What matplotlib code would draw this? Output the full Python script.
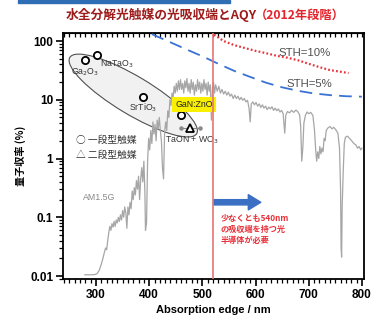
import matplotlib.pyplot as plt
import matplotlib.patches as patches
from matplotlib.transforms import ScaledTranslation
from matplotlib.ticker import MultipleLocator, LogLocator, NullFormatter

plt.rcParams["font.family"] = ["Liberation Sans", "Noto Sans CJK JP"]
JP = ["Noto Sans CJK JP", "Liberation Sans"]

# AM1.5G solar spectrum (scaled to the AQY axis)
am15_nm = [279, 290, 298, 302, 306, 310, 313, 316, 318, 320, 322, 324, 326, 328,
           330, 332, 334, 336, 338, 340, 342, 344, 346, 348, 350, 352, 354, 356,
           358, 360, 362, 364, 366, 368, 370, 372, 374, 376, 378, 380, 382, 384,
           386, 388, 390, 392, 393, 395, 397, 399, 401, 403, 405, 407, 409, 411,
           413, 415, 417, 419, 421, 423, 425, 427, 429, 431, 433, 435, 437, 439,
           441, 443, 445, 447, 449, 451, 453, 455, 457, 459, 461, 463, 465, 467,
           469, 471, 473, 475, 477, 479, 481, 483, 485, 487, 489, 491, 493, 495,
           497, 499, 501, 503, 505, 507, 509, 511, 513, 515, 517, 519, 521, 523,
           525, 528, 531, 534, 537, 540, 543, 546, 549, 552, 555, 558, 561, 564,
           567, 570, 573, 576, 579, 582, 585, 588, 590, 592, 595, 598, 601, 604,
           607, 610, 613, 616, 619, 622, 625, 628, 631, 634, 637, 640, 643, 646,
           649, 652, 655, 657, 660, 664, 668, 672, 676, 680, 683, 685, 687, 689,
           691, 694, 697, 700, 704, 708, 711, 713, 715, 717, 719, 721, 723, 725,
           727, 729, 731, 733, 736, 740, 744, 747, 751, 755, 758, 760, 761, 762,
           763, 765, 767, 769, 773, 777, 781, 785, 789, 792, 795, 798, 800]
am15_val = [0.0105, 0.0105, 0.0106, 0.011, 0.0125, 0.016, 0.02, 0.026, 0.03, 0.028,
            0.04, 0.055, 0.07, 0.06, 0.078, 0.068, 0.085, 0.07, 0.09, 0.08, 0.1,
            0.085, 0.11, 0.09, 0.13, 0.1, 0.15, 0.12, 0.065, 0.15, 0.11, 0.18, 0.14,
            0.28, 0.2, 0.32, 0.24, 0.42, 0.3, 0.5, 0.2, 0.45, 0.7, 0.4, 0.9, 0.25,
            0.06, 0.08, 0.9, 2.2, 1.4, 3.0, 1.8, 4.2, 2.6, 3.8, 2.0, 4.5, 3.2, 5.0,
            3.0, 2.0, 0.7, 0.45, 2.8, 4.2, 3.0, 6.5, 5.0, 10, 8, 13, 11, 17, 13, 19,
            14, 21, 15, 22, 15, 19, 13, 21, 16, 23, 14, 19, 13, 22, 15, 20, 12, 18,
            14, 22, 15, 20, 13, 19, 14, 22, 15, 19, 12, 20, 14, 18, 4.5, 16, 20, 13,
            18, 14, 17, 13, 15, 12.5, 14, 12, 13.5, 11.5, 12.5, 10.5, 12, 10.5, 11.5,
            10, 11, 9.8, 10.5, 9.2, 9.8, 7, 4.2, 8.5, 9.2, 8.2, 9, 7.8, 8.5, 7.4,
            8.2, 7.2, 7.8, 6.8, 7.5, 7, 7.6, 6.6, 7.2, 6.5, 7, 6.2, 6.6, 5.8, 2.7,
            5.5, 6.3, 6.0, 6.6, 6.1, 6.7, 6.2, 5.5, 3.5, 0.9, 1.5, 4.0, 5.5, 6.2,
            5.8, 6.1, 5.4, 3.0, 1.5, 0.9, 1.3, 1.0, 1.6, 1.2, 1.5, 1.3, 2.2, 2.0,
            3.0, 3.3, 3.5, 3.2, 3.4, 3.1, 2.7, 1.5, 0.3, 0.03, 0.021, 0.15, 0.6,
            1.8, 2.3, 2.4, 2.2, 2.0, 1.8, 1.7, 1.5, 1.6, 1.4, 1.5]

# AQY required for a given solar-to-hydrogen efficiency
sth5_nm = [405, 440, 470, 500, 530, 560, 590, 620, 650, 680, 710, 740, 770, 800]
sth5_val = [131, 95, 72, 55, 41, 31, 24.5, 19.5, 16.3, 14.2, 12.8, 12, 11.5, 11.3]
sth10_nm = [522, 540, 560, 580, 600, 620, 640, 660, 680, 700, 720, 740, 760, 775]
sth10_val = [128, 100, 85, 76, 68, 62, 56, 52, 47, 41, 36, 32, 30, 28.5]

# one-step photocatalysts
one_step_nm = [280, 302, 388, 460]
one_step_aqy = [48, 58, 11.2, 5.5]
# two-step (Z-scheme) TaON + WO3
z_nm = 477
z_aqy = 3.3
z_range = [460, 495]

edge_nm = 520

fig = plt.figure(figsize=(3.71, 3.25), dpi=100)
fig.patch.set_facecolor("white")
ax = fig.add_axes([0.17, 0.1415, 0.811, 0.757])

# thin blue strip along the top of the slide
fig.patches.append(patches.Rectangle((18 / 371, 1 - 3 / 325), 212 / 371, 3 / 325,
                                     transform=fig.transFigure, color="#2f6db5"))

# title, two colours
fig.text(257 / 371, 0.954, "水全分解光触媒の光吸収端とAQY", ha="right", va="center",
         fontsize=9.2, fontweight="bold", color="#9e1b1b", family=JP)
fig.text(255 / 371, 0.954, "（2012年段階）", ha="left", va="center",
         fontsize=8.8, fontweight="bold", color="#e4222a", family=JP)

ax.set_yscale("log")
ax.set_xlim(238, 804)
ax.set_ylim(0.0089, 137)

# ellipse around the one-step oxides
ell = patches.Ellipse((0, 0), 1.48, 0.38, angle=-31,
                      transform=fig.dpi_scale_trans + ScaledTranslation(370, 11.8, ax.transData),
                      facecolor="#f1f1f1", edgecolor="#505050", lw=0.8, zorder=1)
ax.add_patch(ell)

ax.plot(am15_nm, am15_val, color="#a6a6a6", lw=0.9, zorder=2)
ax.text(276, 0.22, "AM1.5G", fontsize=6.3, color="#888888", va="center")

ax.plot(sth5_nm, sth5_val, color="#3a72d4", lw=1.3, dashes=(7, 4), zorder=3)
ax.plot(sth10_nm, sth10_val, color="#e8323c", lw=1.6, ls=(0, (0.8, 1.0)), zorder=3)
ax.text(693, 62, "STH=10%", fontsize=8.2, color="#505050", ha="center", va="center")
ax.text(702, 18.6, "STH=5%", fontsize=8.2, color="#505050", ha="center", va="center")

ax.axvline(edge_nm, color="#e87575", lw=1.2, zorder=6)

ax.plot(one_step_nm, one_step_aqy, ls="none", marker="o", ms=5.2, mfc="white",
        mec="black", mew=1.3, zorder=4)
ax.plot(z_range, [z_aqy, z_aqy], color="#888888", lw=0.8, marker="o", ms=2.2, zorder=3)
ax.plot([z_nm], [z_aqy], ls="none", marker="^", ms=5.5, mfc="white", mec="black",
        mew=1.3, zorder=4)

lab = dict(fontsize=6.3, color="#333333", ha="center", va="center", zorder=5)
ax.text(279, 29.7, "Ga$_2$O$_3$", **lab)
ax.text(340, 40.6, "NaTaO$_3$", **lab)
ax.text(388, 7.25, "SrTiO$_3$", **lab)
ax.text(480, 2.07, "TaON + WO$_3$", **lab)
ax.text(484, 8.2, "GaN:ZnO", fontsize=6.3, color="#222222", ha="center", va="center",
        zorder=5, bbox=dict(boxstyle="square,pad=0.35", fc="#f8f000", ec="none"))

ax.text(262, 2.05, "○ 一段型触媒", fontsize=7, color="#333333", va="center", family=JP)
ax.text(262, 1.13, "△ 二段型触媒", fontsize=7, color="#333333", va="center", family=JP)

# arrow and note to the right of the absorption edge
ax.annotate("", xy=(610, 0.18), xytext=(edge_nm + 1, 0.18),
            arrowprops=dict(arrowstyle="simple,head_width=1.1,head_length=0.9,tail_width=0.38",
                            color="#3a6fc4", mutation_scale=10, shrinkA=0, shrinkB=0),
            zorder=5)
ax.text(535, 0.114, "少なくとも540nm\nの吸収端を持つ光\n半導体が必要", fontsize=5.9,
        color="#e8303a", fontweight="bold", va="top", ha="left", linespacing=1.3,
        family=JP)

# axes styling
ax.set_xticks([300, 400, 500, 600, 700, 800])
ax.xaxis.set_minor_locator(MultipleLocator(10))
ax.set_yticks([0.01, 0.1, 1, 10, 100])
ax.set_yticklabels(["0.01", "0.1", "1", "10", "100"])
ax.yaxis.set_minor_locator(LogLocator(base=10, subs=range(2, 10)))
ax.yaxis.set_minor_formatter(NullFormatter())
ax.tick_params(which="major", direction="out", length=5, width=1.2, labelsize=8.5, pad=2)
ax.tick_params(which="minor", direction="out", length=2.8, width=0.9)
for t in ax.get_xticklabels() + ax.get_yticklabels():
    t.set_fontweight("bold")
for s in ax.spines.values():
    s.set_linewidth(1.3)

top = ax.secondary_xaxis("top")
top.set_xticks([300, 400, 500, 600, 700, 800])
top.xaxis.set_minor_locator(MultipleLocator(10))
top.tick_params(which="both", direction="in", labeltop=False, length=3, width=0.9)

ax.set_xlabel("Absorption edge / nm", fontsize=8, fontweight="bold", labelpad=3)
ax.set_ylabel("量子収率 (%)", fontsize=7.3, fontweight="bold", family=JP, labelpad=3)

fig.savefig("out.png", dpi=100)
